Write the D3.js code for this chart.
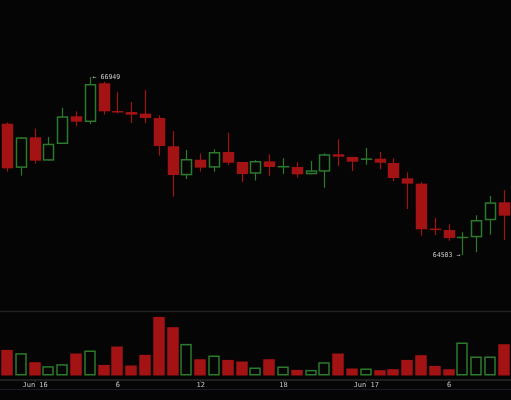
<!DOCTYPE html>
<html>
<head>
<meta charset="utf-8">
<script src="https://cdn.jsdelivr.net/npm/d3@7"></script>
<style>
  html, body { margin: 0; padding: 0; background: #050505; }
  svg { display: block; }
  .lbl { filter: grayscale(100%); }
</style>
</head>
<body>
<svg id="chart" width="511" height="400"></svg>
<script>
const times = [
  "2024-06-15T22:00","2024-06-15T23:00","2024-06-16T00:00","2024-06-16T01:00","2024-06-16T02:00",
  "2024-06-16T03:00","2024-06-16T04:00","2024-06-16T05:00","2024-06-16T06:00","2024-06-16T07:00",
  "2024-06-16T08:00","2024-06-16T09:00","2024-06-16T10:00","2024-06-16T11:00","2024-06-16T12:00",
  "2024-06-16T13:00","2024-06-16T14:00","2024-06-16T15:00","2024-06-16T16:00","2024-06-16T17:00",
  "2024-06-16T18:00","2024-06-16T19:00","2024-06-16T20:00","2024-06-16T21:00","2024-06-16T22:00",
  "2024-06-16T23:00","2024-06-17T00:00","2024-06-17T01:00","2024-06-17T02:00","2024-06-17T03:00",
  "2024-06-17T04:00","2024-06-17T05:00","2024-06-17T06:00","2024-06-17T07:00","2024-06-17T08:00",
  "2024-06-17T09:00","2024-06-17T10:00"
];
const open  = [66307,65700,66120,65799,66028,66409,66330,66862,66477,66468,66445,66385,65997,65598,65812,65703,65918,65781,65620,65790,65712,65712,65612,65648,65887,65850,65815,65826,65767,65557,65483,64860,64846,64740,64746,64980,65227];
const high  = [66326,66124,66238,66124,66527,66477,66949,66884,66747,66605,66770,66423,66207,65946,65895,65955,66183,65781,65808,65887,65832,65777,65795,65900,66093,65850,65973,65918,65832,65639,65506,65011,64925,64815,65048,65314,65396];
const low   = [65648,65593,65757,65799,66028,66271,66303,66431,66450,66317,66317,65867,65304,65547,65648,65648,65740,65506,65527,65588,65616,65565,65612,65428,65726,65657,65744,65681,65516,65135,64768,64778,64699,64503,64540,64782,64709];
const close = [65694,66120,65799,66032,66409,66335,66853,66477,66465,66431,66385,66001,65602,65822,65703,65918,65771,65616,65795,65712,65720,65612,65667,65887,65854,65785,65825,65771,65561,65483,64856,64852,64737,64748,64984,65227,65043];
const volume = [256,223,133,93,113,220,250,106,290,100,206,586,483,316,163,200,156,140,80,163,90,56,56,133,220,70,70,53,63,156,203,96,63,330,190,190,313];

const parse = d3.timeParse("%Y-%m-%dT%H:%M");
const data = times.map((t, i) => ({
  t: parse(t), o: open[i], h: high[i], l: low[i], c: close[i], v: volume[i]
}));

const RED = "#a31313";
const GREEN = "#2c7a2c";
const BG = "#050505";

const svg = d3.select("#chart");
svg.append("rect").attr("width", 511).attr("height", 400).attr("fill", BG);

const x = d3.scaleTime()
  .domain([parse("2024-06-15T22:00"), parse("2024-06-17T10:00")])
  .range([7, 503.8]);
const y = d3.scaleLinear().domain([64000, 68000]).range([291.6, 0.5]);
const yV = d3.scaleLinear().domain([0, 640]).range([375.5, 311.5]);

const bw = 11.5;

// separators
svg.append("line").attr("x1", 0).attr("x2", 511).attr("y1", 311.5).attr("y2", 311.5)
  .attr("stroke", "#222").attr("stroke-width", 1.5);

// axis
const axis = d3.axisBottom(x)
  .ticks(d3.timeHour.every(6))
  .tickSize(2)
  .tickFormat(d => d.getHours() === 0 ? d3.timeFormat("%b %d")(d).replace(/ 0/, " ") : String(d.getHours()));
const gAxis = svg.append("g").attr("class", "lbl").attr("transform", "translate(0,380)").call(axis);
gAxis.select(".domain").remove();
gAxis.selectAll(".tick line").attr("stroke", "#444");
gAxis.selectAll(".tick text")
  .attr("fill", "#c4c4c4")
  .attr("font-family", "DejaVu Sans Mono, monospace")
  .attr("font-size", "7px")
  .attr("y", 2.5)
  .attr("dy", "0.71em");
svg.append("line").attr("x1", 0).attr("x2", 511).attr("y1", 380).attr("y2", 380)
  .attr("stroke", "#2a2a2a").attr("stroke-width", 1.5);
svg.append("line").attr("x1", 0).attr("x2", 511).attr("y1", 389.5).attr("y2", 389.5)
  .attr("stroke", "#171c26").attr("stroke-width", 1);

const up = d => d.c >= d.o;
const col = d => up(d) ? GREEN : RED;
const cx = d => Math.round(x(d.t));

// volume bars
svg.append("g").selectAll("rect").data(data).join("rect")
  .attr("x", d => cx(d) - bw / 2 + (up(d) ? 0.75 : 0))
  .attr("width", d => bw - (up(d) ? 1.5 : 0))
  .attr("y", d => yV(d.v) + (up(d) ? 0.75 : 0))
  .attr("height", d => yV(0) - yV(d.v) - (up(d) ? 1.5 : 0))
  .attr("fill", d => up(d) ? BG : RED)
  .attr("stroke", d => up(d) ? GREEN : "none")
  .attr("stroke-width", 1.5);

// wicks
svg.append("g").selectAll("line").data(data).join("line")
  .attr("x1", d => cx(d) + 0.5).attr("x2", d => cx(d) + 0.5)
  .attr("y1", d => y(d.h)).attr("y2", d => y(d.l))
  .attr("stroke", col).attr("stroke-width", 1.2);

// bodies
const bodyH = d => y(Math.min(d.o, d.c)) - y(Math.max(d.o, d.c));
const hollow = d => up(d) && bodyH(d) > 3;
svg.append("g").selectAll("rect").data(data).join("rect")
  .attr("x", d => cx(d) - bw / 2 + 0.5 + (hollow(d) ? 0.75 : 0))
  .attr("width", d => bw - (hollow(d) ? 1.5 : 0))
  .attr("y", d => {
    const top = y(Math.max(d.o, d.c));
    const h = bodyH(d);
    if (h < 1.5) return top + h / 2 - 0.75;
    return top + (hollow(d) ? 0.75 : 0);
  })
  .attr("height", d => {
    const h = Math.max(1.5, bodyH(d));
    return hollow(d) ? h - 1.5 : h;
  })
  .attr("fill", d => hollow(d) ? BG : col(d))
  .attr("stroke", d => hollow(d) ? GREEN : "none")
  .attr("stroke-width", 1.5);

// max / min labels
const iMax = d3.maxIndex(data, d => d.h);
const iMin = d3.minIndex(data, d => d.l);
const lblFont = "DejaVu Sans Mono, monospace";
const gl = svg.append("g").attr("class", "lbl");
gl.append("text")
  .attr("x", cx(data[iMax]) + 2.5).attr("y", y(data[iMax].h))
  .attr("dy", "0.35em")
  .attr("fill", "#c8c8c8").attr("font-family", lblFont).attr("font-size", "6.6px")
  .text("\u2190 " + data[iMax].h);
gl.append("text")
  .attr("x", cx(data[iMin]) - 1.5).attr("y", y(data[iMin].l))
  .attr("dy", "0.35em").attr("text-anchor", "end")
  .attr("fill", "#c8c8c8").attr("font-family", lblFont).attr("font-size", "6.6px")
  .text(data[iMin].l + " \u2192");
</script>
</body>
</html>
